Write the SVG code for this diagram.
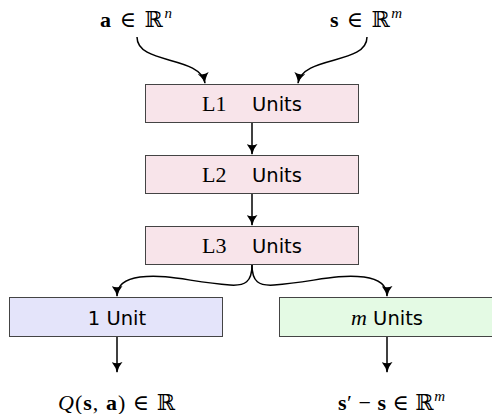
<svg xmlns="http://www.w3.org/2000/svg" width="492" height="414" viewBox="0 0 492 414">
<style>
.box{stroke:#444;stroke-width:1}
.pink{fill:#f8e4ea}
.blue{fill:#e4e4fa}
.green{fill:#e4fae4}
.m{font-family:"Liberation Serif","DejaVu Serif",serif;font-size:22px;fill:#000}
.s{font-family:"DejaVu Sans","Liberation Sans",sans-serif;font-size:19.5px;fill:#000}
.e{fill:none;stroke:#000;stroke-width:1.5}
</style>
<defs>
<marker id="a2" viewBox="0 0 12 12" refX="11" refY="6" markerWidth="11" markerHeight="11" markerUnits="userSpaceOnUse" orient="auto">
<path d="M0,0 Q6,5 12,6 Q6,7 0,12 Q3,6 0,0 Z" fill="#000"/>
</marker>
</defs>
<g id="labels">
<text class="m" x="100" y="27" textLength="72" lengthAdjust="spacing"><tspan font-weight="bold">a</tspan> ∈ ℝ<tspan font-style="italic" font-size="15" dy="-9">n</tspan></text>
<text class="m" x="330" y="27" textLength="72" lengthAdjust="spacing"><tspan font-weight="bold">s</tspan> ∈ ℝ<tspan font-style="italic" font-size="15" dy="-9">m</tspan></text>
<text class="m" x="58" y="410" textLength="117" lengthAdjust="spacing"><tspan font-style="italic">Q</tspan>(<tspan font-weight="bold">s</tspan>, <tspan font-weight="bold">a</tspan>) ∈ ℝ</text>
<text class="m" x="338" y="410" textLength="107" lengthAdjust="spacing"><tspan font-weight="bold">s</tspan>′ − <tspan font-weight="bold">s</tspan> ∈ ℝ<tspan font-style="italic" font-size="15" dy="-9">m</tspan></text>
</g>
<g id="L1">
<rect class="box pink" x="145.5" y="84.5" width="213" height="38"/>
<text class="m" x="202" y="111" font-size="21">L1</text><text class="s" x="252" y="111">Units</text>
</g>
<g id="L2">
<rect class="box pink" x="145.5" y="155.5" width="213" height="38"/>
<text class="m" x="202" y="182" font-size="21">L2</text><text class="s" x="252" y="182">Units</text>
</g>
<g id="L3">
<rect class="box pink" x="145.5" y="226.5" width="213" height="38"/>
<text class="m" x="202" y="253" font-size="21">L3</text><text class="s" x="252" y="253">Units</text>
</g>
<g id="out1">
<rect class="box blue" x="9.5" y="297.5" width="213" height="39"/>
<text class="s" x="117" y="325" text-anchor="middle">1 Unit</text>
</g>
<g id="outm">
<rect class="box green" x="279.5" y="297.5" width="213" height="39"/>
<text x="387" y="325" text-anchor="middle"><tspan class="m" font-style="italic">m</tspan><tspan class="s"> Units</tspan></text>
</g>
<g id="connectors">
<path class="e" marker-end="url(#a2)" d="M137,37 C137,65 200,55 205,83"/>
<path class="e" marker-end="url(#a2)" d="M367,37 C367,65 303,55 298,83"/>
<path class="e" marker-end="url(#a2)" d="M252,123 L252,154"/>
<path class="e" marker-end="url(#a2)" d="M252,194 L252,225"/>
<path class="e" marker-end="url(#a2)" d="M252,265 C252,282 245,286 230,285 C190,282 170,274 140,277 C125,279 117,285 117,296"/>
<path class="e" marker-end="url(#a2)" d="M252,265 C252,282 259,286 274,285 C314,282 334,274 364,277 C379,279 387,285 387,296"/>
<path class="e" marker-end="url(#a2)" d="M117,337 L117,372"/>
<path class="e" marker-end="url(#a2)" d="M387,337 L387,372"/>
</g>
</svg>
